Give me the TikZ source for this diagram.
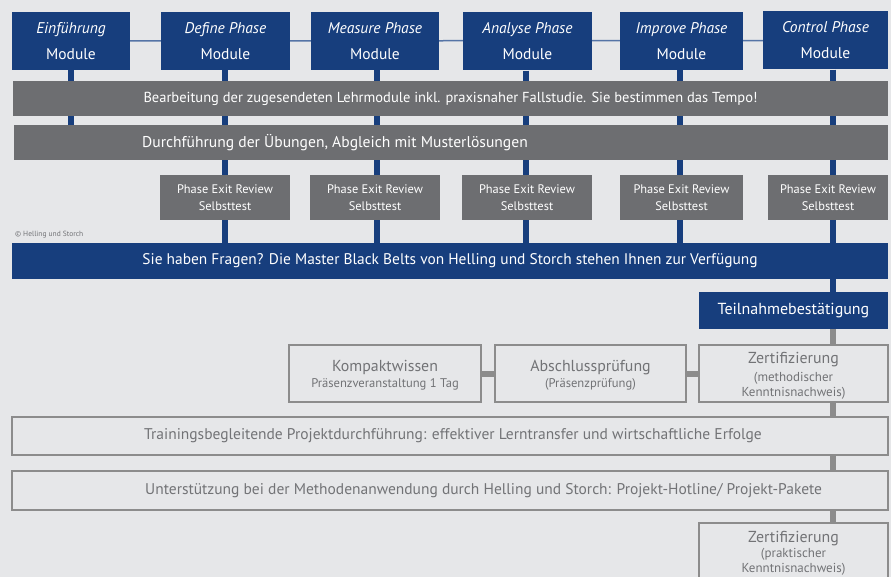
\documentclass[tikz,border=0pt]{standalone}
\usepackage{fontspec}
\setmainfont{PT Sans}
\usetikzlibrary{backgrounds}
\definecolor{hsblue}{HTML}{173E7D}
\definecolor{hsthin}{HTML}{5574A6}
\definecolor{hsdark}{HTML}{6D6E71}
\definecolor{hsbg}{HTML}{E6E7E9}
\definecolor{hsline}{HTML}{8C8C8C}
\definecolor{hstext}{HTML}{727376}
\begin{document}
\begin{tikzpicture}[x=1pt,y=-1pt,
  box/.style={inner sep=0pt, align=center, anchor=center},
  modbox/.style={box, fill=hsblue, text=white, minimum height=58pt, font=\fontsize{15.5}{26}\selectfont},
  barbox/.style={box, fill=hsdark, text=white, minimum height=35pt, font=\fontsize{14.5}{17}\selectfont},
  perbox/.style={box, fill=hsdark, text=white, minimum height=45pt, font=\fontsize{12.4}{16.5}\selectfont},
  bluebar/.style={box, fill=hsblue, text=white, font=\fontsize{15.4}{17}\selectfont},
  outbox/.style={box, draw=hsline, line width=1.8pt, fill=hsbg, text=hstext},
  outtext/.style={box, text=hstext},
  label/.style={anchor=west, inner sep=0pt},
  vline/.style={draw=hsblue, line width=6pt},
  gline/.style={draw=hsline, line width=6pt},
  thinline/.style={draw=hsthin, line width=1.5pt}
]
\useasboundingbox (0,0) rectangle (891,577);

% module boxes
\node[modbox, minimum width=118pt] (e1) at (71,41) {\textit{Einführung}\\Module};
\node[modbox, minimum width=129pt] (e2) at (225.5,41) {\textit{Define Phase}\\Module};
\node[modbox, minimum width=128pt] (e3) at (375,41) {\textit{Measure Phase}\\Module};
\node[modbox, minimum width=129pt] (e4) at (527.5,41.5) {\textit{Analyse Phase}\\Module};
\node[modbox, minimum width=123pt] (e5) at (681.5,41) {\textit{Improve Phase}\\Module};
\node[modbox, minimum width=125pt] (e6) at (825.5,40.5) {\textit{Control Phase}\\Module};

% bars
\node[barbox, minimum width=875pt] (b1) at (450.5,98.5) {Bearbeitung der zugesendeten Lehrmodule inkl. praxisnaher Fallstudie. Sie bestimmen das Tempo!};
\node[barbox, minimum width=874pt] (b2) at (451,142.5) {};
\node[label, text=white, font=\fontsize{15.6}{17}\selectfont] (b2t) at (142,142.5) {Durchführung der Übungen, Abgleich mit Musterlösungen};

% phase exit review
\node[perbox, minimum width=130pt] (p2) at (225,197.5) {Phase Exit Review\\Selbsttest};
\node[perbox, minimum width=130pt] (p3) at (375,197.5) {Phase Exit Review\\Selbsttest};
\node[perbox, minimum width=130pt] (p4) at (527,197.5) {Phase Exit Review\\Selbsttest};
\node[perbox, minimum width=123pt] (p5) at (681.5,197.5) {Phase Exit Review\\Selbsttest};
\node[perbox, minimum width=120pt] (p6) at (828,197.5) {Phase Exit Review\\Selbsttest};

\node[label, text=hstext, font=\fontsize{7.5}{8}\selectfont] (copy) at (15,235) {© Helling und Storch};

\node[bluebar, minimum width=876pt, minimum height=36pt] (bb) at (450,261) {Sie haben Fragen? Die Master Black Belts von Helling und Storch stehen Ihnen zur Verfügung};

\node[bluebar, minimum width=189pt, minimum height=37pt, font=\fontsize{16}{17}\selectfont] (tn) at (793.5,310.5) {Teilnahmebestätigung};

% outlined boxes
\node[outbox, minimum width=192pt, minimum height=57pt] (k1) at (385,373.5) {};
\node[outtext, font=\fontsize{12.6}{16}\selectfont] (k1t) at (385,375)
  {{\fontsize{15.9}{16}\selectfont Kompaktwissen}\\Präsenzveranstaltung 1 Tag};
\node[outbox, minimum width=191pt, minimum height=57pt] (k2) at (590.5,373.5) {};
\node[outtext, font=\fontsize{12.6}{15.5}\selectfont] (k2t) at (590.5,375)
  {{\fontsize{15.9}{16}\selectfont Abschlussprüfung}\\(Präsenzprüfung)};
\node[outbox, minimum width=189pt, minimum height=57pt] (k3) at (793.5,373.5) {};
\node[outtext, font=\fontsize{13}{15}\selectfont] (k3t) at (793.5,376)
  {{\fontsize{15.9}{16}\selectfont Zertifizierung}\\[2.5pt](methodischer\\Kenntnisnachweis)};

\node[outbox, minimum width=876pt, minimum height=38pt] (t1) at (450,436) {};
\node[label, text=hstext, font=\fontsize{15.5}{16}\selectfont] (t1t) at (144,436)
  {Trainingsbegleitende Projektdurchführung: effektiver Lerntransfer und wirtschaftliche Erfolge};
\node[outbox, minimum width=876pt, minimum height=39pt] (t2) at (450,490.5) {};
\node[label, text=hstext, font=\fontsize{15.5}{16}\selectfont] (t2t) at (145,490.5)
  {Unterstützung bei der Methodenanwendung durch Helling und Storch: Projekt-Hotline/ Projekt-Pakete};

\node[outbox, minimum width=189pt, minimum height=60pt, anchor=north, font=\fontsize{13}{15}\selectfont] (z2) at (793.5,522)
  {{\fontsize{15.9}{16}\selectfont Zertifizierung}\\(praktischer\\Kenntnisnachweis)};

% line x positions
\coordinate (l1) at (71,0);
\coordinate (l2) at (225,0);
\coordinate (l3) at (377,0);
\coordinate (l4) at (526,0);
\coordinate (l5) at (680,0);
\coordinate (l6) at (833,0);

\begin{scope}[on background layer]
  \fill[hsbg] (0,0) rectangle (891,577);
  \draw[thinline] (e1.center) -- (e6.center);
  \draw[vline] (l1 |- e1.south) -- (l1 |- b2.north);
  \draw[vline] (l2 |- e2.south) -- (l2 |- bb.north);
  \draw[vline] (l3 |- e3.south) -- (l3 |- bb.north);
  \draw[vline] (l4 |- e4.south) -- (l4 |- bb.north);
  \draw[vline] (l5 |- e5.south) -- (l5 |- bb.north);
  \draw[vline] (l6 |- e6.south) -- (l6 |- tn.north);
  \draw[gline] (l6 |- tn.south) -- (l6 |- z2.north);
  \draw[gline] (k1.east) -- (k2.west);
  \draw[gline] (k2.east) -- (k3.west);
\end{scope}
\end{tikzpicture}
\end{document}
